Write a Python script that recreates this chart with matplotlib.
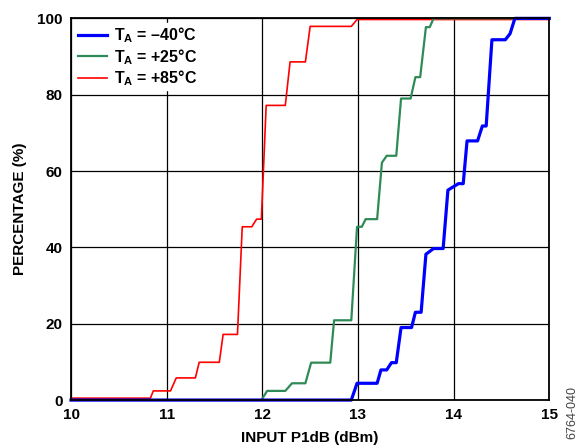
import matplotlib
matplotlib.use("Agg")
import matplotlib.pyplot as plt

plt.rcParams['font.family'] = ['Liberation Sans', 'DejaVu Sans']
plt.rcParams['font.weight'] = 'bold'
plt.rcParams['mathtext.fontset'] = 'custom'
plt.rcParams['mathtext.rm'] = 'Liberation Sans:bold'
plt.rcParams['mathtext.it'] = 'Liberation Sans:bold'
plt.rcParams['mathtext.bf'] = 'Liberation Sans:bold'

# cumulative distribution, input P1dB (dBm) vs percentage
x_m40 = [10.0, 12.93, 12.99, 13.20, 13.24, 13.30, 13.35, 13.40, 13.45, 13.56, 13.60,
         13.66, 13.71, 13.79, 13.89, 13.94, 14.05, 14.10, 14.14, 14.25, 14.30, 14.34,
         14.40, 14.54, 14.59, 14.64, 15.0]
y_m40 = [0.0, 0.0, 4.4, 4.4, 7.9, 7.9, 9.8, 9.8, 19.0, 19.0, 23.0,
         23.0, 38.2, 39.7, 39.7, 55.0, 56.7, 56.7, 67.9, 67.9, 71.8, 71.8,
         94.4, 94.4, 96.0, 100.0, 100.0]

x_p25 = [10.0, 11.99, 12.05, 12.24, 12.31, 12.45, 12.51, 12.71, 12.75, 12.93, 12.99,
         13.04, 13.08, 13.20, 13.25, 13.30, 13.40, 13.45, 13.55, 13.60, 13.65, 13.71,
         13.75, 13.79, 15.0]
y_p25 = [0.0, 0.0, 2.4, 2.4, 4.4, 4.4, 9.8, 9.8, 20.9, 20.9, 45.4,
         45.4, 47.4, 47.4, 62.2, 64.0, 64.0, 79.0, 79.0, 84.6, 84.6, 97.7,
         97.7, 100.0, 100.0]

x_p85 = [10.0, 10.83, 10.86, 11.04, 11.10, 11.30, 11.34, 11.55, 11.59, 11.74, 11.79,
         11.89, 11.94, 11.99, 12.04, 12.24, 12.29, 12.45, 12.50, 12.93, 12.99, 15.0]
y_p85 = [0.5, 0.5, 2.4, 2.4, 5.8, 5.8, 9.9, 9.9, 17.2, 17.2, 45.4,
         45.4, 47.4, 47.4, 77.2, 77.2, 88.6, 88.6, 97.9, 97.9, 99.7, 99.7]

labels = ['$T_A$ = \u201340°C', '$T_A$ = +25°C', '$T_A$ = +85°C']
x_ticks = [10, 11, 12, 13, 14, 15]
y_ticks = [0, 20, 40, 60, 80, 100]

fig = plt.figure(figsize=(5.85, 4.48), dpi=100)
ax = fig.add_axes([0.1214, 0.107, 0.8176, 0.852])

ax.plot(x_p85, y_p85, color='#ff0000', lw=1.2, clip_on=False, zorder=3, label=labels[2])
ax.plot(x_p25, y_p25, color='#2e8b57', lw=1.6, clip_on=False, zorder=4, label=labels[1])
ax.plot(x_m40, y_m40, color='#0000ff', lw=2.3, clip_on=False, zorder=5, label=labels[0])

ax.set_xlim(10, 15)
ax.set_ylim(0, 100)
ax.set_xticks(x_ticks)
ax.set_yticks(y_ticks)
ax.tick_params(length=0, labelsize=11, pad=6)
ax.grid(True, color='black', lw=0.9)
for s in ax.spines.values():
    s.set_linewidth(1.3)
    s.set_zorder(6)

ax.set_xlabel('INPUT P1dB (dBm)', fontsize=11, fontweight='bold', labelpad=6)
ax.set_ylabel('PERCENTAGE (%)', fontsize=11, fontweight='bold', labelpad=7)

handles, labs = ax.get_legend_handles_labels()
leg = ax.legend(handles[::-1], labs[::-1], loc='upper left', frameon=True,
                fontsize=11.5, handlelength=1.8, handletextpad=0.45, labelspacing=0.1,
                borderaxespad=0.3, fancybox=False, borderpad=0.15)
leg.get_frame().set_edgecolor('white')
leg.get_frame().set_alpha(1)
leg.set_zorder(7)

fig.text(0.978, 0.02, '6764-040', rotation=90, fontsize=9, fontweight='normal',
         ha='center', va='bottom', color='#444444')

fig.savefig('out.png', dpi=100)
